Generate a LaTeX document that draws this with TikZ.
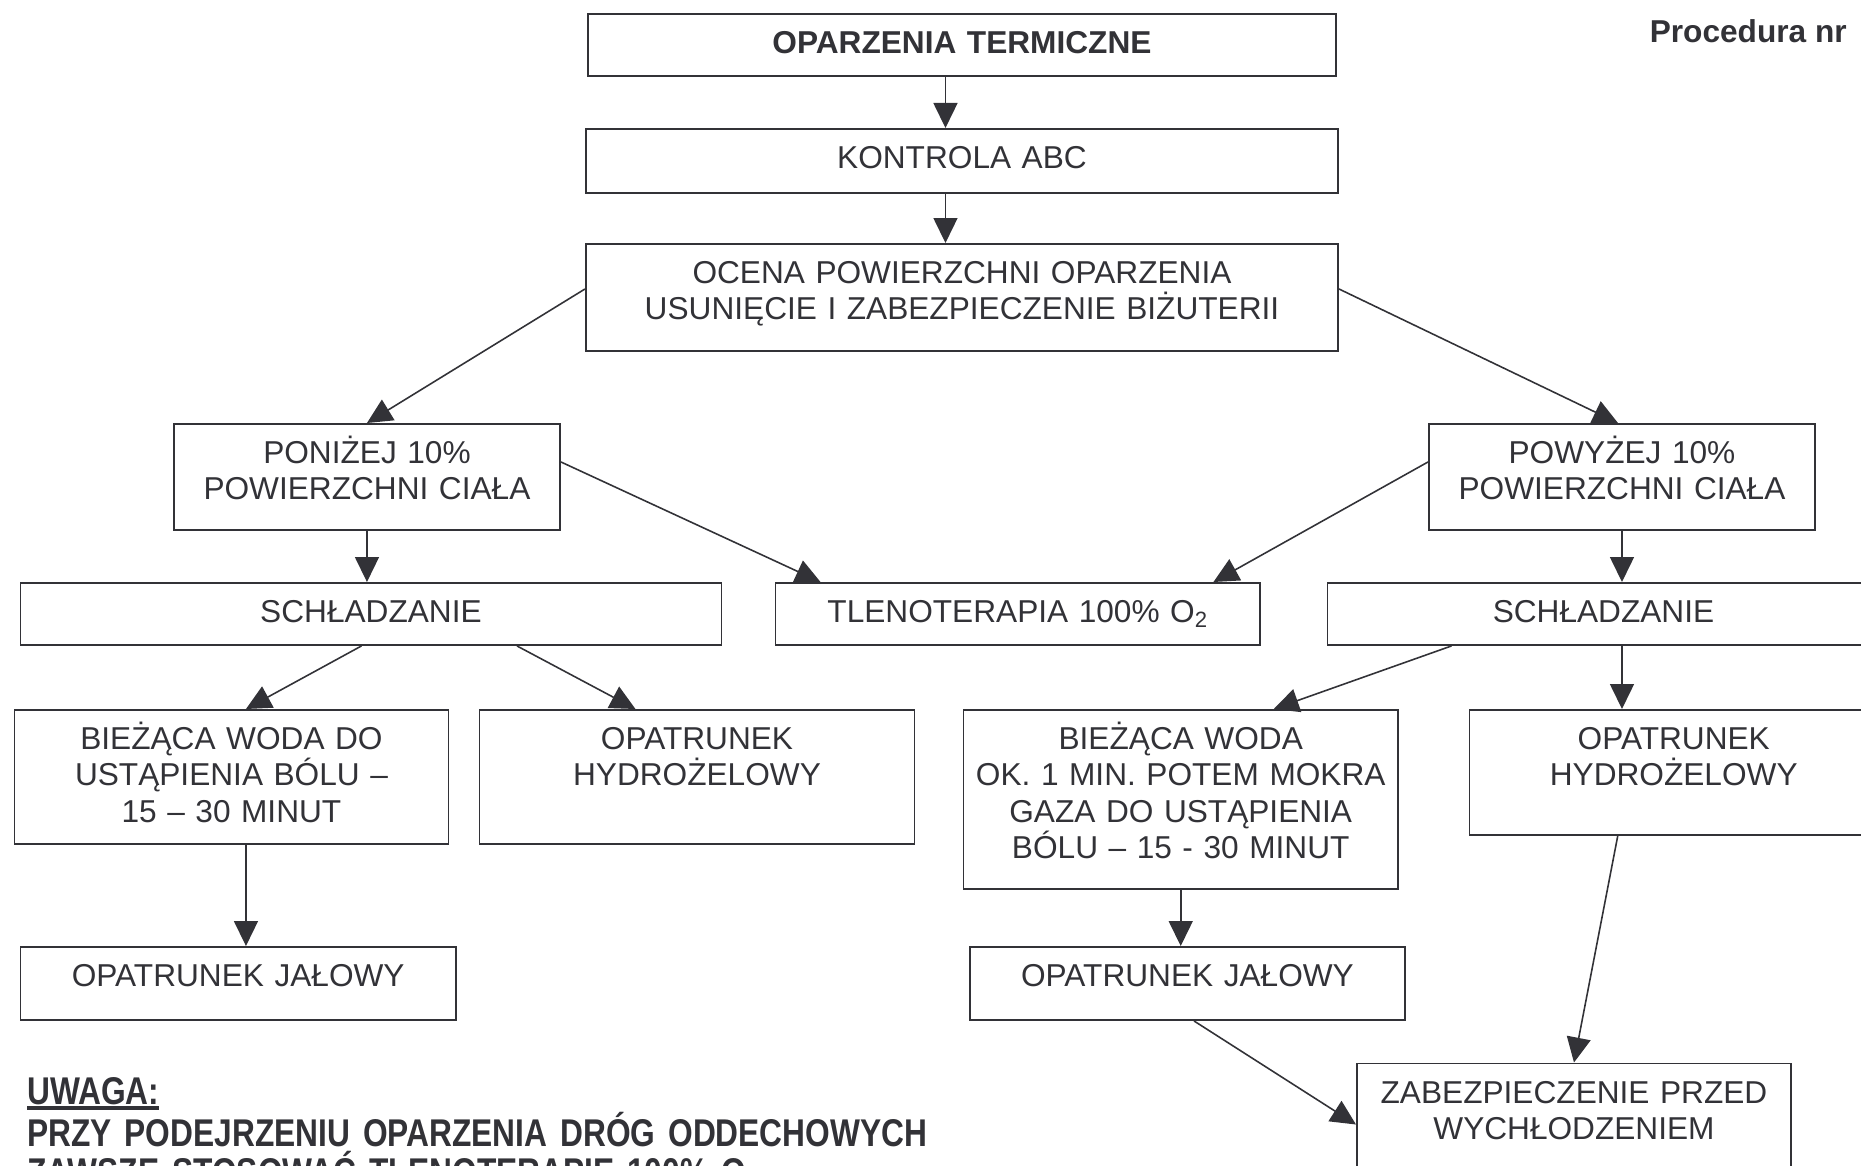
\documentclass[tikz,border=0pt]{standalone}
\usepackage{fontspec}
\setmainfont{Liberation Sans}
\newfontfamily\waski[FakeStretch=0.82]{Liberation Sans Bold}
\usetikzlibrary{arrows.meta}
\definecolor{szary}{RGB}{50,50,55}
\newcommand\podkresl[1]{\setbox0\hbox{#1}\rlap{\rule[-0.12cm]{\wd0}{0.08cm}}\box0}

\tikzset{
  ramka/.style={draw=szary, line width=1.1pt, inner sep=0pt, anchor=north west,
    align=center, text height=0.8cm, text=szary, font=\fontsize{18}{20.5}\selectfont},
  strz/.style={draw=szary, line width=0.9pt, -{Triangle[length=0.5cm,width=0.48cm]}}
}

\begin{document}
\begin{tikzpicture}
\useasboundingbox (0,0) rectangle (37.22,-23.3);
\clip (0,0) rectangle (37.22,-23.3);

\node[ramka, text width=14.96cm, text depth=0.44cm] (oparzenia) at (11.74,-0.26) {\bfseries OPARZENIA TERMICZNE};
\node[ramka, text width=15.04cm, text depth=0.48cm] (abc) at (11.70,-2.56) {KONTROLA ABC};
\node[ramka, text width=15.04cm, text depth=1.34cm] (ocena) at (11.70,-4.86) {OCENA POWIERZCHNI OPARZENIA\\USUNIĘCIE I ZABEZPIECZENIE BIŻUTERII};
\node[ramka, text width=7.72cm, text depth=1.32cm] (ponizej) at (3.46,-8.46) {PONIŻEJ 10\%\\POWIERZCHNI CIAŁA};
\node[ramka, text width=7.72cm, text depth=1.32cm] (powyzej) at (28.56,-8.46) {POWYŻEJ 10\%\\POWIERZCHNI CIAŁA};
\node[ramka, text width=14.02cm, text depth=0.44cm] (chlodL) at (0.39,-11.64) {SCHŁADZANIE};
\node[ramka, text width=9.69cm, text depth=0.44cm] (tlen) at (15.49,-11.64) {TLENOTERAPIA 100\% O\textsubscript{2}};
\node[ramka, text width=11.04cm, text depth=0.44cm] (chlodP) at (26.53,-11.64) {SCHŁADZANIE};
\node[ramka, text width=8.68cm, text depth=1.88cm] (wodaL) at (0.27,-14.18) {BIEŻĄCA WODA DO\\USTĄPIENIA BÓLU –\\15 – 30 MINUT};
\node[ramka, text width=8.70cm, text depth=1.88cm] (hydroL) at (9.57,-14.18) {OPATRUNEK\\HYDROŻELOWY};
\node[ramka, text width=8.69cm, text depth=2.78cm] (wodaP) at (19.25,-14.18) {BIEŻĄCA WODA\\OK. 1 MIN. POTEM MOKRA\\GAZA DO USTĄPIENIA\\BÓLU – 15 - 30 MINUT};
\node[ramka, text width=8.17cm, text depth=1.70cm] (hydroP) at (29.37,-14.18) {OPATRUNEK\\HYDROŻELOWY};
\node[ramka, text width=8.71cm, text depth=0.66cm] (jalowyL) at (0.39,-18.92) {OPATRUNEK JAŁOWY};
\node[ramka, text width=8.70cm, text depth=0.66cm] (jalowyP) at (19.38,-18.92) {OPATRUNEK JAŁOWY};
\node[ramka, text width=8.68cm, text depth=1.80cm] (wychlodz) at (27.12,-21.25) {ZABEZPIECZENIE PRZED\\WYCHŁODZENIEM};

\node[anchor=base east, inner sep=0pt, text=szary, font=\bfseries\fontsize{18}{20}\selectfont] (procedura) at (36.94,-0.86) {Procedura nr};
\node[anchor=north west, inner sep=0pt, text width=20cm, align=left, text height=0.6cm, text=szary, font=\waski\fontsize{22}{22}\selectfont] (uwaga) at (0.54,-21.48) {\podkresl{UWAGA:}\\PRZY PODEJRZENIU OPARZENIA DRÓG ODDECHOWYCH\\ZAWSZE STOSOWAĆ TLENOTERAPIĘ 100\% O\textsubscript{2}};

\draw[strz] ([xshift=-0.33cm]oparzenia.south) -- ([xshift=-0.33cm]oparzenia.south |- abc.north);
\draw[strz] ([xshift=-0.33cm]abc.south) -- ([xshift=-0.33cm]abc.south |- ocena.north);
\draw[strz] ([yshift=0.17cm]ocena.west) -- (ponizej.north);
\draw[strz] ([yshift=0.17cm]ocena.east) -- ([xshift=-0.08cm]powyzej.north);
\draw[strz] (ponizej.south) -- (ponizej.south |- chlodL.north);
\draw[strz] (powyzej.south) -- (powyzej.south |- chlodP.north);
\draw[strz] ([yshift=0.3cm]ponizej.east) -- ([xshift=0.92cm]tlen.north west);
\draw[strz] ([yshift=0.3cm]powyzej.west) -- ([xshift=-0.95cm]tlen.north east);
\draw[strz] ([xshift=-0.19cm]chlodL.south) -- ([xshift=0.29cm]wodaL.north);
\draw[strz] ([xshift=2.92cm]chlodL.south) -- ([xshift=-1.23cm]hydroL.north);
\draw[strz] ([xshift=-3.04cm]chlodP.south) -- ([xshift=1.86cm]wodaP.north);
\draw[strz] (chlodP.south -| powyzej.south) -- (powyzej.south |- hydroP.north);
\draw[strz] ([xshift=0.29cm]wodaL.south) -- ([xshift=0.29cm]wodaL.south |- jalowyL.north);
\draw[strz] (wodaP.south) -- (wodaP.south |- jalowyP.north);
\draw[strz] ([xshift=0.13cm]jalowyP.south) -- ([yshift=-1.24cm]wychlodz.north west);
\draw[strz] ([xshift=-1.12cm]hydroP.south) -- (wychlodz.north);
\end{tikzpicture}
\end{document}
